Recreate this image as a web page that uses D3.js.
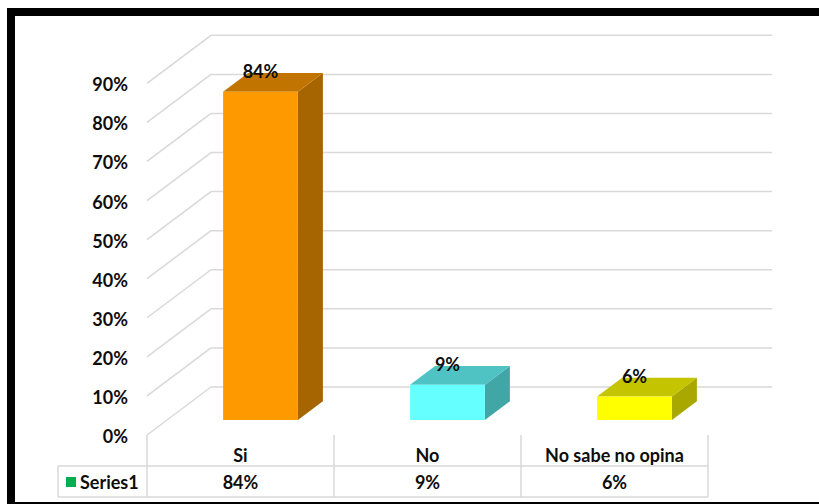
<!DOCTYPE html>
<html>
<head>
<meta charset="utf-8">
<script src="https://cdn.jsdelivr.net/npm/d3@7"></script>
<style>
  html, body { margin: 0; padding: 0; background: #ffffff; }
  svg { display: block; }
  text { font-family: Lato, "Open Sans", sans-serif; font-weight: 700; fill: #0d0d0d; }
</style>
</head>
<body>
<svg id="chart" width="819" height="504"></svg>
<script>
// Survey answers, share of respondents
const categories = ["Si", "No", "No sabe no opina"];
const values = [0.84, 0.09, 0.06];
const valueLabels = ["84%", "9%", "6%"];
const yTicks = [0, 0.1, 0.2, 0.3, 0.4, 0.5, 0.6, 0.7, 0.8, 0.9];
const seriesName = "Series1";

// Face shading for each bar: front, top, side
const frontColors = ["#ff9900", "#66ffff", "#ffff00"];
const topColors = ["#c27400", "#4fc3c3", "#c4c400"];
const sideColors = ["#a66500", "#40a6a6", "#a8a800"];

const svg = d3.select("#chart");
const fontSize = 18;

// Oblique projection: depth fraction t moves a point up and to the right
const depthX = 64, depthY = 48;
const proj = (x, y, t) => [x + depthX * t, y - depthY * t];

const x = d3.scaleBand().domain(categories).range([147, 708]).paddingInner(0).paddingOuter(0);
const y = d3.scaleLinear().domain([0, 0.9]).range([435, 83.3]);
const tickFmt = d3.format(".0%");

const gridColor = "#d9d9d9";
const grid = svg.append("g").attr("stroke", gridColor).attr("stroke-width", 1.5).attr("fill", "none");

// Back wall horizontal lines and left wall diagonals
yTicks.forEach(v => {
  const [bx0, by] = proj(x.range()[0], y(v), 1);
  const [bx1] = proj(x.range()[1], y(v), 1);
  grid.append("line").attr("x1", bx0).attr("y1", by).attr("x2", bx1).attr("y2", by);
  grid.append("line").attr("x1", x.range()[0]).attr("y1", y(v)).attr("x2", bx0).attr("y2", by);
});

// Y axis labels
svg.append("g").selectAll("text").data(yTicks).join("text")
  .attr("x", 128)
  .attr("y", d => y(d) + 1)
  .attr("text-anchor", "end")
  .attr("dominant-baseline", "central")
  .attr("font-size", fontSize)
  .text(d => tickFmt(d));

// Bars as boxes between two depth planes
const t0 = 0.3125, t1 = 0.703;
const barW = x.bandwidth() * 0.4;
const bars = svg.append("g");
categories.forEach((c, i) => {
  const cx = x(c) + x.bandwidth() / 2;
  const xl = cx - barW / 2, xr = cx + barW / 2;
  const yb = y(0), yt = y(values[i]);
  const P = (px, py, t) => proj(px, py, t).join(",");
  // side face
  bars.append("polygon")
    .attr("points", [P(xr, yb, t0), P(xr, yb, t1), P(xr, yt, t1), P(xr, yt, t0)].join(" "))
    .attr("fill", sideColors[i]);
  // top face
  bars.append("polygon")
    .attr("points", [P(xl, yt, t0), P(xr, yt, t0), P(xr, yt, t1), P(xl, yt, t1)].join(" "))
    .attr("fill", topColors[i]);
  // front face
  const [fx, fy] = proj(xl, yt, t0);
  const [, fb] = proj(xl, yb, t0);
  bars.append("rect")
    .attr("x", fx).attr("y", fy).attr("width", barW).attr("height", fb - fy)
    .attr("fill", frontColors[i]);
  // value label above the bar
  svg.append("text")
    .attr("x", proj(cx, yt, t0)[0])
    .attr("y", proj(cx, yt, t0)[1] - 21)
    .attr("text-anchor", "middle")
    .attr("dominant-baseline", "central")
    .attr("font-size", fontSize)
    .text(valueLabels[i]);
});

// Data table beneath the plot
const rowTop = y(0), rowMid = 466, rowBot = 497, legendLeft = 58;
const table = svg.append("g").attr("stroke", gridColor).attr("stroke-width", 1.5);
[x.range()[0], ...categories.map(c => x(c) + x.bandwidth())].forEach(px => {
  table.append("line").attr("x1", px).attr("y1", rowTop).attr("x2", px).attr("y2", rowBot);
});
table.append("line").attr("x1", legendLeft).attr("y1", rowMid).attr("x2", x.range()[1]).attr("y2", rowMid);
table.append("line").attr("x1", legendLeft).attr("y1", rowBot).attr("x2", x.range()[1]).attr("y2", rowBot);
table.append("line").attr("x1", legendLeft).attr("y1", rowMid).attr("x2", legendLeft).attr("y2", rowBot);

svg.append("g").selectAll("text").data(categories).join("text")
  .attr("x", d => x(d) + x.bandwidth() / 2)
  .attr("y", 455)
  .attr("text-anchor", "middle")
  .attr("dominant-baseline", "central")
  .attr("font-size", fontSize)
  .text(d => d);

svg.append("g").selectAll("text").data(valueLabels).join("text")
  .attr("x", (d, i) => x(categories[i]) + x.bandwidth() / 2)
  .attr("y", 482)
  .attr("text-anchor", "middle")
  .attr("dominant-baseline", "central")
  .attr("font-size", fontSize)
  .text(d => d);

// Legend key in the table
svg.append("rect").attr("x", 66).attr("y", 477).attr("width", 10).attr("height", 10).attr("fill", "#00b050");
svg.append("text").attr("x", 80).attr("y", 482)
  .attr("dominant-baseline", "central").attr("font-size", fontSize).text(seriesName);

// Heavy frame around the chart
svg.append("rect")
  .attr("x", 11).attr("y", 12).attr("width", 860).attr("height", 494)
  .attr("fill", "none").attr("stroke", "#000").attr("stroke-width", 8);
</script>
</body>
</html>
